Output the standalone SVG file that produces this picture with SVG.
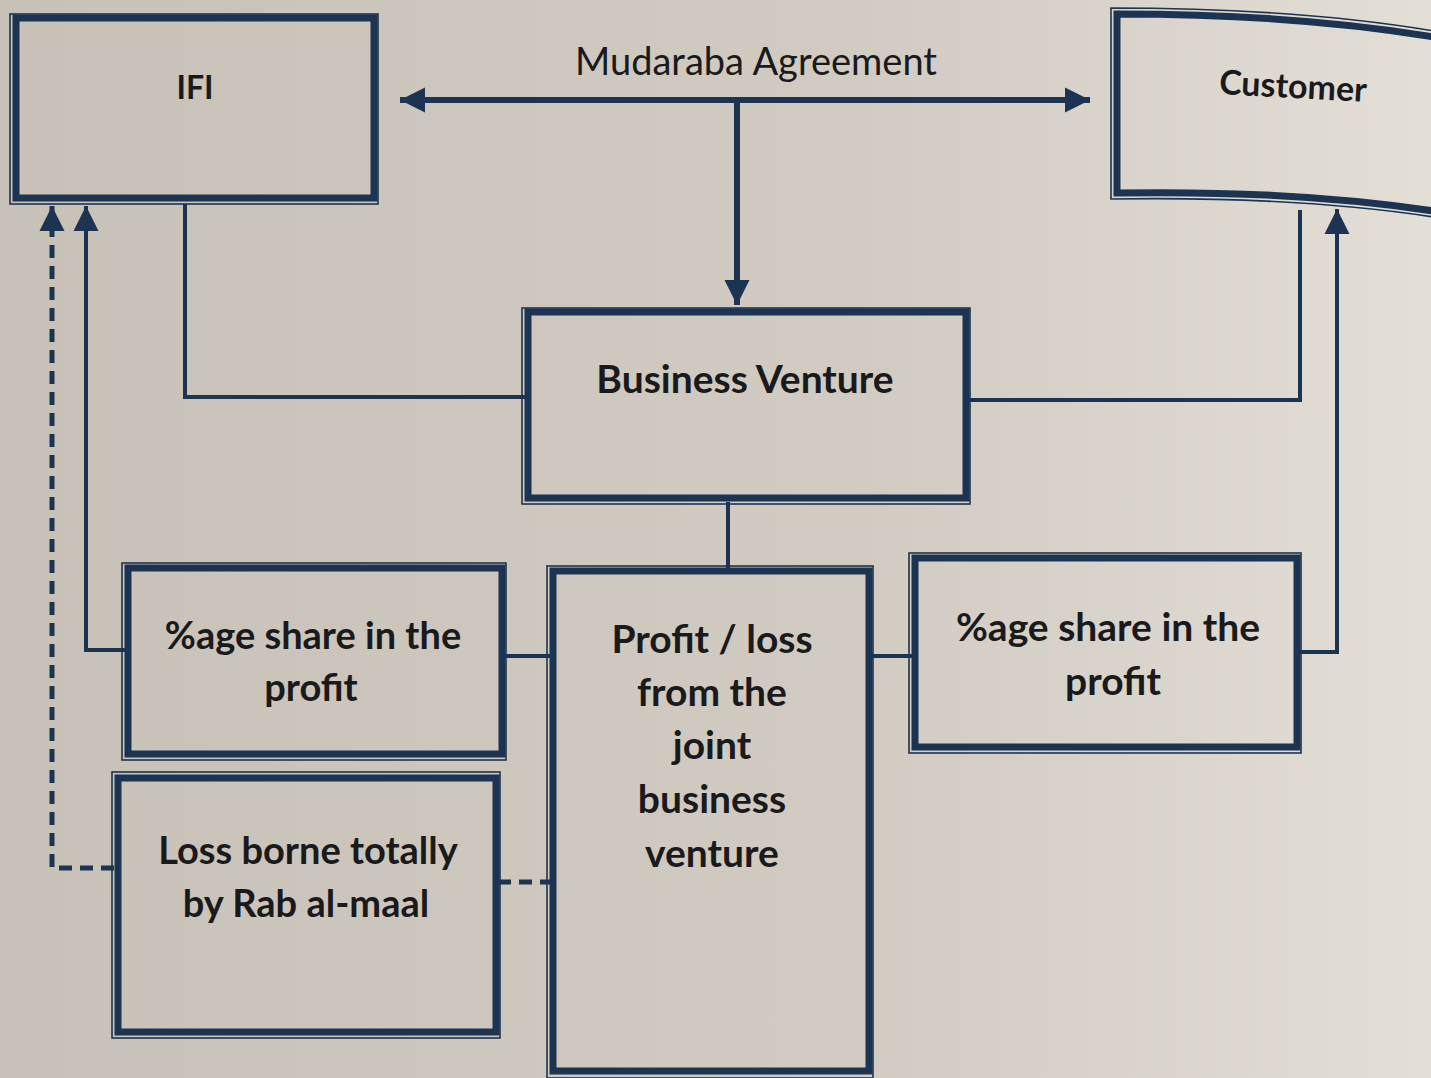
<svg xmlns="http://www.w3.org/2000/svg" width="1431" height="1078" viewBox="0 0 1431 1078">
<style>
.in{fill:none;stroke:#1c3352;stroke-width:7}
.out{fill:none;stroke:#1c3352;stroke-width:1.6}
.ln{fill:none;stroke:#1c3352;stroke-width:6}
.thin{fill:none;stroke:#1c3352;stroke-width:4}
.dash{fill:none;stroke:#1c3352;stroke-width:5;stroke-dasharray:13 8}
.t{font-family:Lato,"Open Sans",sans-serif;font-weight:700;fill:#1a1a1c;text-anchor:middle}
.r{font-family:Lato,"Open Sans",sans-serif;font-weight:400;fill:#1a1a1c;text-anchor:middle}
</style>
<defs>
<linearGradient id="bg" x1="0" y1="0" x2="1" y2="0">
<stop offset="0" stop-color="#c8c1b7"/>
<stop offset="0.6" stop-color="#d1cbc2"/>
<stop offset="1" stop-color="#e3ded6"/>
</linearGradient>
<marker id="ah" viewBox="0 0 10 10" refX="10" refY="5" markerWidth="25" markerHeight="26" markerUnits="userSpaceOnUse" orient="auto-start-reverse">
<path d="M0,0 L10,5 L0,10 Z" fill="#1c3352"/>
</marker>
</defs>
<rect width="1431" height="1078" fill="url(#bg)"/>

<g id="connectors">
<path class="ln" d="M400,100 H1090" marker-start="url(#ah)" marker-end="url(#ah)"/>
<path class="ln" d="M737,100 V305" marker-end="url(#ah)"/>
<path class="thin" d="M185,204 V397 H526"/>
<path class="thin" d="M967,400 H1300 V210"/>
<path class="thin" d="M1298,652 H1337 V209" marker-end="url(#ah)"/>
<path class="thin" d="M728,502 V568"/>
<path class="thin" d="M503,656 H553"/>
<path class="thin" d="M870,656 H914"/>
<path class="thin" d="M126,650 H86 V206" marker-end="url(#ah)"/>
<path class="dash" d="M114,868 H52 V206" marker-end="url(#ah)"/>
<path class="dash" d="M498,882 H552"/>
</g>

<text class="r" x="756" y="75" font-size="38">Mudaraba Agreement</text>

<g id="ifi">
<rect class="out" x="10" y="14" width="368" height="190"/>
<rect class="in" x="16" y="18" width="358" height="180"/>
<text class="t" x="195" y="99" font-size="32">IFI</text>
</g>

<g id="customer">
<path class="out" d="M1440,32 Q1300,8 1111,8 V199 Q1300,196 1440,218"/>
<path class="in" d="M1440,38 Q1300,14 1117,14 V193 Q1300,190 1440,212"/>
<text class="t" x="1293" y="98" font-size="34" transform="rotate(3 1293 87)">Customer</text>
</g>

<g id="business-venture">
<rect class="out" x="522" y="308" width="448" height="196"/>
<rect class="in" x="528" y="312" width="438" height="186"/>
<text class="t" x="745" y="393" font-size="39">Business Venture</text>
</g>

<g id="share-ifi">
<rect class="out" x="122" y="563" width="384" height="197"/>
<rect class="in" x="128" y="568" width="374" height="186"/>
<text class="t" x="313" y="649" font-size="38">%age share in the</text>
<text class="t" x="311" y="701" font-size="38">profit</text>
</g>

<g id="profit-loss">
<rect class="out" x="547" y="566" width="326" height="512"/>
<rect class="in" x="553" y="571" width="316" height="500"/>
<text class="t" x="712" y="653" font-size="39">Profit / loss</text>
<text class="t" x="712" y="706" font-size="39">from the</text>
<text class="t" x="712" y="759" font-size="39">joint</text>
<text class="t" x="712" y="813" font-size="39">business</text>
<text class="t" x="712" y="867" font-size="39">venture</text>
</g>

<g id="share-customer">
<rect class="out" x="909" y="553" width="392" height="200"/>
<rect class="in" x="915" y="558" width="382" height="189"/>
<text class="t" x="1108" y="641" font-size="39">%age share in the</text>
<text class="t" x="1113" y="695" font-size="39">profit</text>
</g>

<g id="loss">
<rect class="out" x="112" y="772" width="388" height="266"/>
<rect class="in" x="118" y="778" width="378" height="254"/>
<text class="t" x="308" y="864" font-size="38">Loss borne totally</text>
<text class="t" x="306" y="917" font-size="38">by Rab al-maal</text>
</g>
</svg>
